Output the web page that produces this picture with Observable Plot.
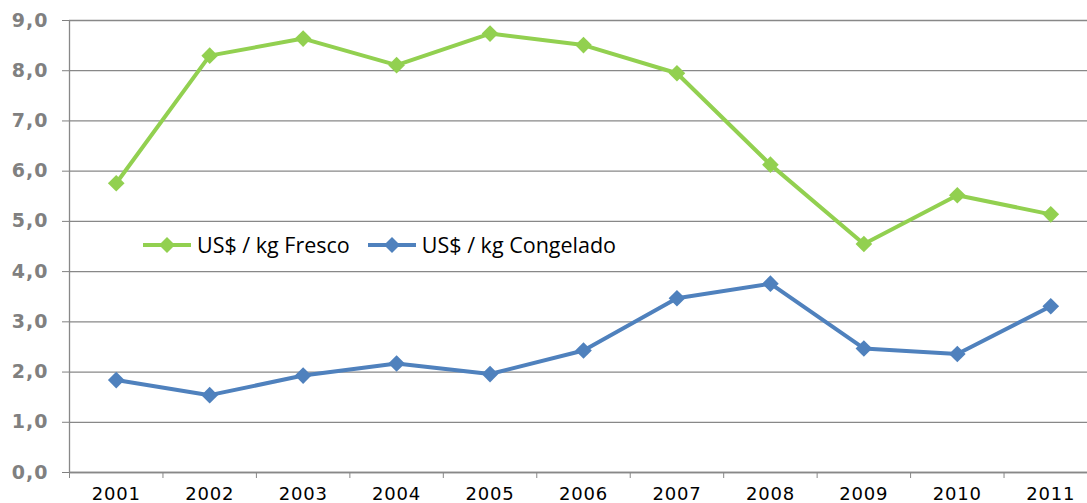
<!DOCTYPE html>
<html>
<head>
<meta charset="utf-8">
<script src="https://cdn.jsdelivr.net/npm/d3@7"></script>
<script src="https://cdn.jsdelivr.net/npm/@observablehq/plot@0.6"></script>
<style>
  html, body { margin: 0; padding: 0; background: #fff; overflow: hidden; }
  #wrap { position: relative; width: 1087px; height: 503px; overflow: hidden; }
  #legend { position: absolute; left: 143px; top: 230px; display: flex; align-items: center;
    font-family: "Open Sans", sans-serif; font-size: 21.5px; color: #000; white-space: nowrap; }
  .item { display: flex; align-items: center; margin-right: 18px; }
  .item svg { margin-right: 6px; }
  .yax text { letter-spacing: 1px; }
  .xax text { letter-spacing: 0.8px; }
</style>
</head>
<body>
<div id="wrap"><div id="legend"></div></div>
<script>
const years = [2001, 2002, 2003, 2004, 2005, 2006, 2007, 2008, 2009, 2010, 2011];
const fresco = [5.76, 8.30, 8.64, 8.11, 8.74, 8.51, 7.95, 6.13, 4.55, 5.52, 5.14];
const congelado = [1.84, 1.54, 1.93, 2.17, 1.96, 2.43, 3.47, 3.76, 2.47, 2.36, 3.31];
const yTicks = [0, 1, 2, 3, 4, 5, 6, 7, 8, 9];
const seriesNames = ["US$ / kg Fresco", "US$ / kg Congelado"];
const seriesColors = ["#92D050", "#4F81BD"];

const data = [];
years.forEach((yr, i) => {
  data.push({year: yr, value: fresco[i], series: seriesNames[0]});
  data.push({year: yr, value: congelado[i], series: seriesNames[1]});
});
const boundaries = years.map(y => y - 0.5).concat([years[years.length - 1] + 0.5]);

const chart = Plot.plot({
  width: 1087,
  height: 503,
  marginTop: 20,
  marginBottom: 31,
  marginLeft: 69,
  marginRight: 0,
  style: {fontFamily: "DejaVu Sans, sans-serif", background: "transparent", overflow: "visible"},
  x: {type: "linear", domain: [boundaries[0], boundaries[boundaries.length - 1]], range: [69, 1097]},
  y: {domain: [0, 9]},
  color: {domain: seriesNames, range: seriesColors},
  marks: [
    Plot.gridY(yTicks, {stroke: "#888", strokeOpacity: 1, strokeWidth: 1.3}),
    Plot.ruleX([boundaries[0]], {stroke: "#888", strokeWidth: 1.3}),
    Plot.ruleY([0], {stroke: "#888", strokeWidth: 1.3}),
    Plot.axisY(yTicks, {tickSize: 7, tickPadding: 14, tickFormat: d => d.toFixed(1).replace(".", ","),
      fontSize: 19, fontWeight: "bold", color: "#808080", label: null, className: "yax"}),
    Plot.axisX(boundaries, {tickSize: 6, tickFormat: () => "", color: "#888", label: null}),
    Plot.axisX(years, {tickSize: 0, tickPadding: 15, tickFormat: d => String(d), fontSize: 18, color: "#000", label: null, className: "xax"}),
    Plot.line(data, {x: "year", y: "value", z: "series", stroke: "series", strokeWidth: 4}),
    Plot.dot(data, {x: "year", y: "value", fill: "series", symbol: "diamond2", r: 7.5, stroke: null})
  ]
});
document.getElementById("wrap").prepend(chart);

const legend = document.getElementById("legend");
seriesNames.forEach((name, i) => {
  const item = document.createElement("div");
  item.className = "item";
  item.innerHTML = `<svg width="48" height="20"><line x1="0" x2="48" y1="10" y2="10" stroke="${seriesColors[i]}" stroke-width="4"/><path d="M24,2 L32,10 L24,18 L16,10 Z" fill="${seriesColors[i]}"/></svg><span>${name}</span>`;
  legend.appendChild(item);
});
</script>
</body>
</html>
